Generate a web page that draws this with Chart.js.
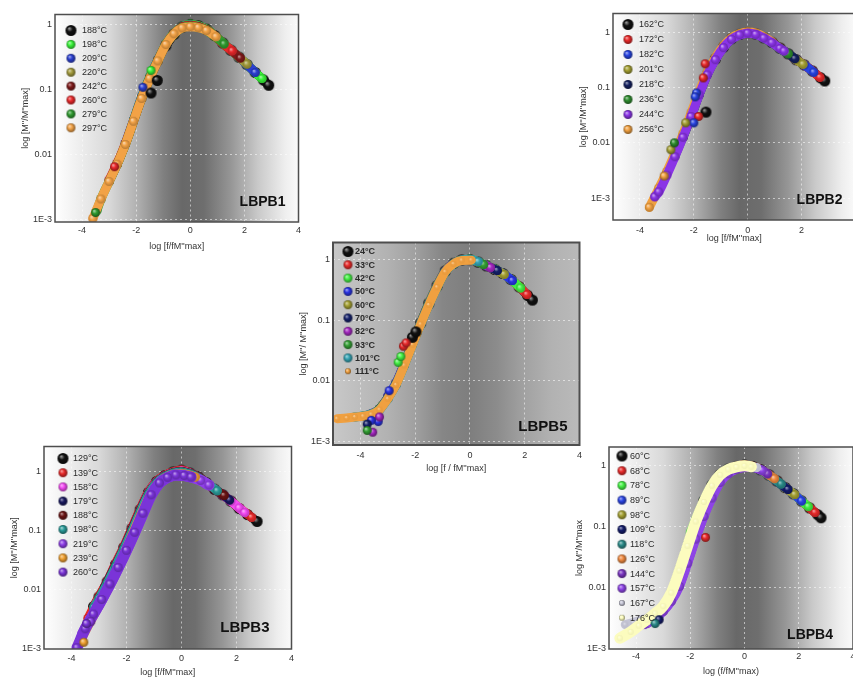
<!DOCTYPE html>
<html>
<head>
<meta charset="utf-8">
<script src="https://cdn.jsdelivr.net/npm/chart.js@4.4.1/dist/chart.umd.min.js"></script>
<style>
  html, body { margin: 0; padding: 0; background: #fff; width: 853px; height: 688px; overflow: hidden; position: relative; }
  canvas { position: absolute; }
</style>
</head>
<body>
<script>
// ---------------- shared axis ticks ----------------
const X_TICKS = [-4, -2, 0, 2, 4];
const Y_TICKS = [0.001, 0.01, 0.1, 1];
const Y_TICK_LABELS = ['1E-3', '0.01', '0.1', '1'];

// ---------------- LBPB1 ----------------
const LBPB1_TEMPS = [188, 198, 209, 220, 242, 260, 279, 297];
const LBPB1_SERIES = [
  [[-0.9,0.48],[-0.6,0.72],[-0.3,0.93],[0,1.02],[0.3,0.97],[0.6,0.86],[0.9,0.69],[1.2,0.53],[1.5,0.41],[1.8,0.32],[2.1,0.245],[2.4,0.186],[2.7,0.143],[2.9,0.118]],
  [[-2.1,0.034],[-1.8,0.078],[-1.5,0.16],[-1.2,0.29],[-0.9,0.51],[-0.6,0.75],[-0.3,0.95],[0,1.03],[0.3,0.97],[0.6,0.86],[0.9,0.69],[1.2,0.53],[1.5,0.41],[1.8,0.32],[2.1,0.245],[2.4,0.186],[2.65,0.15]],
  [[-2.4,0.015],[-2.1,0.034],[-1.8,0.078],[-1.5,0.155],[-1.2,0.29],[-0.9,0.5],[-0.6,0.74],[-0.3,0.94],[0,1.0],[0.3,0.95],[0.6,0.85],[0.9,0.68],[1.2,0.52],[1.5,0.41],[1.8,0.32],[2.1,0.245],[2.4,0.186]],
  [[-2.7,0.0072],[-2.4,0.0145],[-2.1,0.033],[-1.8,0.074],[-1.5,0.15],[-1.2,0.28],[-0.9,0.5],[-0.6,0.74],[-0.3,0.93],[0,0.99],[0.3,0.95],[0.6,0.85],[0.9,0.68],[1.2,0.52],[1.5,0.41],[1.8,0.32],[2.1,0.25]],
  [[-3.0,0.0039],[-2.7,0.0072],[-2.4,0.0145],[-2.1,0.033],[-1.8,0.074],[-1.5,0.15],[-1.2,0.28],[-0.9,0.5],[-0.6,0.74],[-0.3,0.93],[0,0.98],[0.3,0.94],[0.6,0.84],[0.9,0.68],[1.2,0.52],[1.5,0.41],[1.85,0.31]],
  [[-3.0,0.0041],[-2.7,0.0075],[-2.4,0.015],[-2.1,0.033],[-1.8,0.074],[-1.5,0.15],[-1.2,0.28],[-0.9,0.5],[-0.6,0.74],[-0.3,0.92],[0,0.97],[0.3,0.93],[0.6,0.84],[0.9,0.68],[1.2,0.52],[1.55,0.4]],
  [[-3.45,0.0014],[-3.3,0.0021],[-3.0,0.0039],[-2.7,0.0072],[-2.4,0.0145],[-2.1,0.033],[-1.8,0.074],[-1.5,0.15],[-1.2,0.28],[-0.9,0.5],[-0.6,0.73],[-0.3,0.91],[0,0.96],[0.3,0.92],[0.6,0.83],[0.9,0.67],[1.25,0.51]],
  [[-3.6,0.00105],[-3.3,0.0021],[-3.0,0.0039],[-2.7,0.0072],[-2.4,0.0145],[-2.1,0.033],[-1.8,0.074],[-1.5,0.15],[-1.2,0.28],[-0.9,0.5],[-0.6,0.73],[-0.3,0.9],[0,0.94],[0.3,0.91],[0.6,0.82],[0.95,0.66]]
];
// off-curve points: [series index, log f, M''/M''max]
const LBPB1_STRAY = [[0,-1.45,0.09],[0,-1.22,0.14],[1,-1.45,0.2],[2,-1.75,0.11],[5,-2.8,0.0066],[6,-3.5,0.0013]];

// ---------------- LBPB2 ----------------
const LBPB2_TEMPS = [162, 172, 182, 201, 218, 236, 244, 256];
const LBPB2_SERIES = [
  [[-1.2,0.33],[-0.9,0.54],[-0.6,0.77],[-0.3,0.92],[0,0.99],[0.3,0.94],[0.6,0.8],[0.9,0.66],[1.2,0.52],[1.5,0.41],[1.8,0.32],[2.1,0.257],[2.4,0.2],[2.7,0.151],[2.86,0.132]],
  [[-1.5,0.18],[-1.2,0.34],[-0.9,0.56],[-0.6,0.78],[-0.3,0.93],[0,1.0],[0.3,0.95],[0.6,0.8],[0.9,0.66],[1.2,0.52],[1.5,0.41],[1.8,0.32],[2.1,0.257],[2.4,0.2],[2.68,0.153]],
  [[-1.8,0.076],[-1.5,0.174],[-1.2,0.33],[-0.9,0.54],[-0.6,0.76],[-0.3,0.91],[0,0.98],[0.3,0.93],[0.6,0.79],[0.9,0.65],[1.2,0.51],[1.5,0.41],[1.8,0.32],[2.1,0.257],[2.45,0.19]],
  [[-2.1,0.031],[-1.8,0.076],[-1.5,0.174],[-1.2,0.33],[-0.9,0.54],[-0.6,0.76],[-0.3,0.91],[0,0.98],[0.3,0.93],[0.6,0.79],[0.9,0.65],[1.2,0.51],[1.5,0.41],[1.8,0.32],[2.05,0.265]],
  [[-2.4,0.0126],[-2.1,0.03],[-1.8,0.076],[-1.5,0.174],[-1.2,0.33],[-0.9,0.54],[-0.6,0.76],[-0.3,0.91],[0,0.98],[0.3,0.93],[0.6,0.79],[0.9,0.65],[1.2,0.51],[1.5,0.41],[1.75,0.335]],
  [[-2.7,0.0058],[-2.4,0.0128],[-2.1,0.03],[-1.8,0.076],[-1.5,0.174],[-1.2,0.33],[-0.9,0.54],[-0.6,0.76],[-0.3,0.91],[0,0.98],[0.3,0.93],[0.6,0.79],[0.9,0.65],[1.2,0.51],[1.5,0.41]],
  [[-3.45,0.00105],[-3.3,0.00129],[-3.0,0.0026],[-2.7,0.0056],[-2.4,0.0126],[-2.1,0.03],[-1.8,0.074],[-1.5,0.17],[-1.2,0.32],[-0.9,0.53],[-0.6,0.75],[-0.3,0.9],[0,0.97],[0.3,0.92],[0.6,0.79],[0.9,0.65],[1.2,0.51],[1.35,0.46]],
  [[-3.65,0.00068],[-3.3,0.0015],[-3.0,0.003],[-2.7,0.0065],[-2.4,0.0145],[-2.1,0.035],[-1.8,0.085],[-1.5,0.19],[-1.2,0.35],[-0.9,0.57],[-0.6,0.8],[-0.3,0.95],[0,1.02],[0.3,0.97],[0.6,0.83],[0.9,0.68]]
];
const LBPB2_STRAY = [[0,-1.55,0.036],[1,-1.58,0.27],[1,-1.65,0.15],[1,-1.82,0.03],[2,-1.9,0.08],[2,-1.95,0.068],[2,-2.0,0.023],[3,-2.3,0.023],[5,-2.72,0.01],[3,-2.85,0.0075],[7,-3.1,0.0025]];

// ---------------- LBPB3 ----------------
const LBPB3_TEMPS = [129, 139, 158, 179, 188, 198, 219, 239, 260];
const LBPB3_SERIES = [
  [[-3.2,0.0052],[-3.0,0.0076],[-2.7,0.0138],[-2.4,0.027],[-2.1,0.052],[-1.8,0.11],[-1.5,0.23],[-1.2,0.45],[-0.9,0.69],[-0.6,0.87],[-0.3,1.0],[0,1.07],[0.3,0.96],[0.6,0.83],[0.9,0.66],[1.2,0.51],[1.5,0.41],[1.8,0.32],[2.1,0.24],[2.4,0.19],[2.75,0.145]],
  [[-3.4,0.0033],[-3.0,0.0078],[-2.7,0.014],[-2.4,0.028],[-2.1,0.054],[-1.8,0.113],[-1.5,0.235],[-1.2,0.46],[-0.9,0.7],[-0.6,0.88],[-0.3,1.01],[0,1.08],[0.3,0.96],[0.6,0.83],[0.9,0.66],[1.2,0.51],[1.5,0.41],[1.8,0.32],[2.1,0.245],[2.4,0.193],[2.55,0.17]],
  [[-2.6,0.016],[-2.4,0.026],[-2.1,0.05],[-1.8,0.105],[-1.5,0.22],[-1.2,0.44],[-0.9,0.68],[-0.6,0.86],[-0.3,0.98],[0,1.04],[0.3,0.95],[0.6,0.82],[0.9,0.66],[1.2,0.51],[1.5,0.41],[1.8,0.32],[2.1,0.245],[2.3,0.205]],
  [[-2.8,0.011],[-2.4,0.026],[-2.1,0.05],[-1.8,0.105],[-1.5,0.22],[-1.2,0.43],[-0.9,0.67],[-0.6,0.85],[-0.3,0.97],[0,1.02],[0.3,0.94],[0.6,0.82],[0.9,0.66],[1.2,0.51],[1.5,0.41],[1.75,0.335]],
  [[-3.0,0.0074],[-2.7,0.013],[-2.4,0.026],[-2.1,0.05],[-1.8,0.105],[-1.5,0.22],[-1.2,0.43],[-0.9,0.67],[-0.6,0.85],[-0.3,0.97],[0,1.02],[0.3,0.94],[0.6,0.82],[0.9,0.66],[1.2,0.51],[1.55,0.4]],
  [[-3.2,0.005],[-3.0,0.0072],[-2.7,0.013],[-2.4,0.025],[-2.1,0.049],[-1.8,0.1],[-1.5,0.21],[-1.2,0.42],[-0.9,0.66],[-0.6,0.84],[-0.3,0.96],[0,1.0],[0.3,0.93],[0.6,0.81],[0.9,0.66],[1.3,0.48]],
  [[-3.6,0.0018],[-3.5,0.0022],[-3.2,0.0039],[-2.9,0.0069],[-2.6,0.0126],[-2.3,0.024],[-2.0,0.047],[-1.7,0.095],[-1.4,0.2],[-1.1,0.41],[-0.8,0.65],[-0.5,0.81],[-0.2,0.89],[0.1,0.87],[0.4,0.81],[0.7,0.72],[1.0,0.6]],
  [[-3.75,0.0012],[-3.6,0.0016],[-3.3,0.003],[-3.0,0.0055],[-2.7,0.01],[-2.4,0.02],[-2.1,0.04],[-1.8,0.085],[-1.5,0.18],[-1.2,0.36],[-0.9,0.6],[-0.6,0.8],[-0.3,0.91],[0,0.93],[0.3,0.88],[0.5,0.82]],
  [[-3.8,0.00105],[-3.5,0.0022],[-3.2,0.0039],[-2.9,0.0069],[-2.6,0.0126],[-2.3,0.024],[-2.0,0.047],[-1.7,0.095],[-1.4,0.2],[-1.1,0.41],[-0.8,0.65],[-0.5,0.81],[-0.2,0.89],[0.1,0.87],[0.35,0.82]]
];
const LBPB3_STRAY = [[8,-3.45,0.0027],[6,-3.3,0.0029],[7,-3.55,0.0013]];

// ---------------- LBPB4 ----------------
const LBPB4_TEMPS = [60, 68, 78, 89, 98, 109, 118, 126, 144, 157, 167, 176];
const LBPB4_SERIES = [
  [[-1.5,0.26],[-1.2,0.47],[-0.9,0.7],[-0.6,0.86],[-0.3,0.95],[0,1.0],[0.3,0.95],[0.6,0.84],[0.9,0.69],[1.2,0.55],[1.5,0.43],[1.8,0.34],[2.1,0.26],[2.4,0.2],[2.7,0.155],[2.82,0.138]],
  [[-1.8,0.12],[-1.5,0.25],[-1.2,0.46],[-0.9,0.69],[-0.6,0.86],[-0.3,0.95],[0,1.0],[0.3,0.95],[0.6,0.84],[0.9,0.69],[1.2,0.55],[1.5,0.43],[1.8,0.34],[2.1,0.26],[2.4,0.2],[2.6,0.168]],
  [[-2.0,0.078],[-1.8,0.13],[-1.5,0.26],[-1.2,0.47],[-0.9,0.7],[-0.6,0.86],[-0.3,0.94],[0,0.99],[0.3,0.94],[0.6,0.83],[0.9,0.68],[1.2,0.54],[1.5,0.43],[1.8,0.34],[2.1,0.26],[2.35,0.21]],
  [[-2.2,0.038],[-1.8,0.12],[-1.5,0.25],[-1.2,0.46],[-0.9,0.69],[-0.6,0.85],[-0.3,0.93],[0,0.98],[0.3,0.93],[0.6,0.83],[0.9,0.68],[1.2,0.54],[1.5,0.43],[1.8,0.34],[2.1,0.26]],
  [[-2.4,0.019],[-2.1,0.048],[-1.8,0.12],[-1.5,0.25],[-1.2,0.46],[-0.9,0.69],[-0.6,0.85],[-0.3,0.93],[0,0.98],[0.3,0.93],[0.6,0.83],[0.9,0.68],[1.2,0.54],[1.5,0.43],[1.85,0.33]],
  [[-2.7,0.0083],[-2.4,0.02],[-2.1,0.05],[-1.8,0.125],[-1.5,0.26],[-1.2,0.47],[-0.9,0.7],[-0.6,0.86],[-0.3,0.94],[0,0.98],[0.3,0.93],[0.6,0.83],[0.9,0.68],[1.2,0.54],[1.6,0.4]],
  [[-3.4,0.0029],[-3.25,0.0032],[-3.0,0.0045],[-2.7,0.0083],[-2.4,0.02],[-2.1,0.05],[-1.8,0.125],[-1.5,0.26],[-1.2,0.47],[-0.9,0.7],[-0.6,0.86],[-0.3,0.94],[0,0.98],[0.3,0.93],[0.6,0.83],[0.9,0.68],[1.35,0.49]],
  [[-3.3,0.0036],[-3.0,0.0048],[-2.7,0.008],[-2.4,0.018],[-2.1,0.046],[-1.8,0.115],[-1.5,0.24],[-1.2,0.45],[-0.9,0.68],[-0.6,0.84],[-0.3,0.93],[0,0.98],[0.3,0.94],[0.6,0.84],[0.9,0.69],[1.1,0.6]],
  [[-3.6,0.0026],[-3.3,0.0032],[-3.0,0.0042],[-2.7,0.0062],[-2.4,0.011],[-2.1,0.026],[-1.8,0.065],[-1.5,0.15],[-1.2,0.3],[-0.9,0.53],[-0.6,0.73],[-0.3,0.86],[0,0.92],[0.3,0.92],[0.6,0.84],[0.85,0.72]],
  [[-3.7,0.0025],[-3.3,0.0031],[-3.0,0.0041],[-2.7,0.006],[-2.4,0.0105],[-2.1,0.025],[-1.8,0.062],[-1.5,0.145],[-1.2,0.29],[-0.9,0.52],[-0.6,0.72],[-0.3,0.85],[0,0.91],[0.3,0.91],[0.65,0.82]],
  [[-4.4,0.0025],[-4.1,0.0027],[-3.8,0.003],[-3.5,0.0034],[-3.2,0.0041],[-3.0,0.005],[-2.7,0.0083],[-2.4,0.019],[-2.1,0.048],[-1.8,0.12],[-1.5,0.25],[-1.2,0.46],[-0.9,0.69],[-0.6,0.85],[-0.3,0.93],[0,0.98],[0.45,0.91]],
  [[-4.6,0.0015],[-4.2,0.0019],[-3.9,0.0024],[-3.6,0.003],[-3.3,0.0038],[-3.0,0.005],[-2.7,0.0083],[-2.4,0.019],[-2.1,0.048],[-1.8,0.12],[-1.5,0.25],[-1.2,0.46],[-0.9,0.69],[-0.6,0.85],[-0.3,0.93],[0,0.97],[0.25,0.94]]
];
const LBPB4_STRAY = [[1,-1.44,0.066],[6,-3.3,0.0026],[5,-3.15,0.003]];

// ---------------- LBPB5 ----------------
const LBPB5_TEMPS = [24, 33, 42, 50, 60, 70, 82, 93, 101, 111];
const LBPB5_SERIES = [
  [[-1.8,0.09],[-1.5,0.19],[-1.2,0.37],[-0.9,0.65],[-0.6,0.87],[-0.3,0.99],[0,1.0],[0.3,0.91],[0.6,0.79],[0.9,0.69],[1.2,0.59],[1.5,0.47],[1.8,0.355],[2.1,0.257],[2.28,0.214]],
  [[-2.1,0.042],[-1.8,0.09],[-1.5,0.19],[-1.2,0.37],[-0.9,0.65],[-0.6,0.87],[-0.3,0.99],[0,1.0],[0.3,0.91],[0.6,0.79],[0.9,0.69],[1.2,0.59],[1.5,0.47],[1.8,0.355],[2.08,0.265]],
  [[-2.4,0.02],[-2.1,0.042],[-1.8,0.09],[-1.5,0.19],[-1.2,0.37],[-0.9,0.65],[-0.6,0.87],[-0.3,0.99],[0,1.01],[0.3,0.92],[0.6,0.8],[0.9,0.7],[1.2,0.59],[1.5,0.47],[1.85,0.34]],
  [[-3.0,0.0055],[-2.7,0.0092],[-2.4,0.019],[-2.1,0.041],[-1.8,0.088],[-1.5,0.185],[-1.2,0.36],[-0.9,0.64],[-0.6,0.86],[-0.3,0.98],[0,1.0],[0.3,0.91],[0.6,0.79],[0.9,0.69],[1.2,0.59],[1.55,0.45]],
  [[-3.2,0.0039],[-3.0,0.0052],[-2.7,0.0088],[-2.4,0.0185],[-2.1,0.04],[-1.8,0.087],[-1.5,0.18],[-1.2,0.355],[-0.9,0.64],[-0.6,0.86],[-0.3,0.98],[0,1.0],[0.3,0.91],[0.6,0.79],[0.9,0.69],[1.25,0.57]],
  [[-3.5,0.0029],[-3.3,0.0034],[-3.0,0.0052],[-2.7,0.0088],[-2.4,0.0185],[-2.1,0.04],[-1.8,0.087],[-1.5,0.18],[-1.2,0.355],[-0.9,0.64],[-0.6,0.86],[-0.3,0.98],[0,1.0],[0.3,0.91],[0.6,0.79],[1.0,0.66]],
  [[-3.7,0.0027],[-3.3,0.0034],[-3.0,0.0052],[-2.7,0.0088],[-2.4,0.0185],[-2.1,0.04],[-1.8,0.087],[-1.5,0.18],[-1.2,0.355],[-0.9,0.64],[-0.6,0.86],[-0.3,0.98],[0,1.0],[0.3,0.91],[0.75,0.74]],
  [[-3.85,0.0026],[-3.6,0.0028],[-3.3,0.0034],[-3.0,0.0051],[-2.7,0.0087],[-2.4,0.018],[-2.1,0.04],[-1.8,0.086],[-1.5,0.18],[-1.2,0.35],[-0.9,0.63],[-0.6,0.85],[-0.3,0.98],[0,1.0],[0.3,0.91],[0.5,0.83]],
  [[-4.2,0.0025],[-3.9,0.0026],[-3.6,0.0028],[-3.3,0.0033],[-3.0,0.005],[-2.7,0.0085],[-2.4,0.0178],[-2.1,0.039],[-1.8,0.085],[-1.5,0.178],[-1.2,0.35],[-0.9,0.63],[-0.6,0.85],[-0.3,0.98],[0,1.01],[0.3,0.93]],
  [[-4.85,0.00234],[-4.5,0.0024],[-4.2,0.0025],[-3.9,0.00257],[-3.6,0.00275],[-3.3,0.0033],[-3.0,0.005],[-2.7,0.0085],[-2.4,0.0178],[-2.1,0.039],[-1.8,0.085],[-1.5,0.178],[-1.2,0.35],[-0.9,0.63],[-0.6,0.85],[-0.3,0.97],[0.05,0.98]]
];
const LBPB5_STRAY = [[0,-2.1,0.052],[0,-1.97,0.064],[1,-2.43,0.037],[1,-2.33,0.042],[2,-2.62,0.02],[2,-2.52,0.025],[3,-2.95,0.0068],[3,-3.35,0.0021],[3,-3.6,0.0022],[5,-3.75,0.0019],[6,-3.55,0.0014],[6,-3.3,0.0025],[7,-3.75,0.0015]];

// ---------------- panel layout and styling ----------------
const FONT = '"Liberation Sans", Arial, sans-serif';
const AXIS_W = 55, AXIS_H = 40, PAD_T = 5, PAD_R = 10;

const GREY_BG = [[-5,'#ffffff'],[-3,'#d9d9d9'],[-2,'#b2b2b2'],[-1,'#808080'],[-0.3,'#686868'],[0.5,'#6e6e6e'],[1.5,'#969696'],[2.5,'#c9c9c9'],[3.5,'#eeeeee'],[4,'#fafafa']];

const PANELS = [
  { name: 'LBPB1', temps: LBPB1_TEMPS, series: LBPB1_SERIES, stray: LBPB1_STRAY,
    colors: ['#111111','#39f239','#2b3fd0','#a39b3c','#7e1a1a','#e8282a','#2f9a2f','#f2a246'],
    rect: [55, 5, 303, 222], yMin: 9.3e-4, yMax: 1.45,
    yTitle: "log [M''/M''max]", xTitle: "log [f/fM''max]", xTitleGap: 25, xTickPad: 3,
    legend: { dx: 16, tx: 27, dy: 16, step: 13.9, bold: false },
    label: { dx: 13, dy: 20, size: 14 }, bg: GREY_BG },
  { name: 'LBPB2', temps: LBPB2_TEMPS, series: LBPB2_SERIES, stray: LBPB2_STRAY,
    colors: ['#111111','#e82a2a','#2743e0','#a4a032','#14205e','#2e8c2e','#8a34e6','#f0a040'],
    rect: [613, 4, 860, 220], yMin: 4e-4, yMax: 2.2,
    yTitle: "log [M''/M''max]", xTitle: "log [f/fM''max]", xTitleGap: 19, xTickPad: 5,
    legend: { dx: 15, tx: 26, dy: 11, step: 15, bold: false },
    label: { dx: 13, dy: 20, size: 14 }, bg: GREY_BG,
    order: [0, -1, -2, -3, -4, -5, -7, -6] },
  { name: 'LBPB3', temps: LBPB3_TEMPS, series: LBPB3_SERIES, stray: LBPB3_STRAY,
    colors: ['#111111','#e82a2a','#f44af4','#18185e','#6a1414','#2a9a98','#8e3ee8','#f0a030','#7a34d8'],
    rect: [44, 436, 297, 649], yMin: 1e-3, yMax: 2.7,
    yTitle: "log [M''/M''max]", xTitle: "log [f/fM''max]", xTitleGap: 24, xTickPad: 4,
    legend: { dx: 19, tx: 29, dy: 12, step: 14.2, bold: false },
    label: { dx: 22, dy: 21, size: 15 }, bg: GREY_BG, wide: [6, 8] },
  { name: 'LBPB4', temps: LBPB4_TEMPS, series: LBPB4_SERIES, stray: LBPB4_STRAY,
    colors: ['#111111','#e82a2a','#44f044','#2a44e4','#a4a032','#141c6a','#2a8a88','#f08a40','#7a34c0','#8e44e6','#c4c4d4','#fcfcbe'],
    rect: [609, 437, 858, 649], yMin: 1e-3, yMax: 1.97,
    yTitle: "log M''/M''max", xTitle: "log (f/fM''max)", xTitleGap: 23, xTickPad: 2,
    legend: { dx: 13, tx: 21, dy: 9, step: 14.7, bold: false },
    label: { dx: 20, dy: 14, size: 14 }, bg: GREY_BG, wide: [11], small: [10, 11] },
  { name: 'LBPB5', temps: LBPB5_TEMPS, series: LBPB5_SERIES, stray: LBPB5_STRAY,
    colors: ['#111111','#e82a2a','#44f044','#2a34e4','#a4a032','#14206a','#a428c0','#34a034','#34a4b4','#f0a040'],
    rect: [333, 233, 584, 445], yMin: 8.6e-4, yMax: 1.92,
    yTitle: "log [M''/ M''max]", xTitle: "log [f / fM''max]", xTitleGap: 24, xTickPad: 5,
    legend: { dx: 15, tx: 22, dy: 9, step: 13.3, bold: true },
    label: { dx: 12, dy: 18, size: 15 },
    bg: [[-5,'#c8c8c8'],[-3,'#b2b2b2'],[-2,'#a0a0a0'],[-1,'#868686'],[0,'#7e7e7e'],[1,'#8c8c8c'],[2,'#a2a2a2'],[3,'#b2b2b2'],[4,'#bababa']],
    frame: 2, small: [9] }
];

// ---------------- helpers ----------------
function rgb(hex) {
  const n = parseInt(hex.slice(1), 16);
  return [(n >> 16) & 255, (n >> 8) & 255, n & 255];
}
function mix(hex, hex2, t) {
  const a = rgb(hex), b = rgb(hex2);
  return 'rgb(' + a.map((v, k) => Math.round(v + (b[k] - v) * t)).join(',') + ')';
}
// shaded ball used as the marker
function sphere(color, r, edge) {
  const s = Math.ceil(2 * r) + 2;
  const c = document.createElement('canvas');
  c.width = c.height = s;
  const g = c.getContext('2d');
  const m = s / 2;
  const grd = g.createRadialGradient(m - r * 0.35, m - r * 0.4, r * 0.05, m, m, r);
  grd.addColorStop(0, mix(color, '#ffffff', 0.6));
  grd.addColorStop(0.45, color);
  grd.addColorStop(1, mix(color, '#000000', edge));
  g.fillStyle = grd;
  g.beginPath(); g.arc(m, m, r, 0, Math.PI * 2); g.fill();
  return c;
}

function decorPlugin(p, markers) {
  return {
    id: 'decor_' + p.name,
    beforeDraw(chart) {
      const { ctx, chartArea: a, scales: { x } } = chart;
      const g = ctx.createLinearGradient(a.left, 0, a.right, 0);
      p.bg.forEach(([v, c]) => {
        const t = (x.getPixelForValue(v) - a.left) / (a.right - a.left);
        g.addColorStop(Math.min(1, Math.max(0, t)), c);
      });
      ctx.save();
      ctx.fillStyle = g;
      ctx.fillRect(a.left, a.top, a.right - a.left, a.bottom - a.top);
      ctx.restore();
    },
    afterDraw(chart) {
      const { ctx, chartArea: a } = chart;
      ctx.save();
      // legend
      const L = p.legend;
      ctx.font = (L.bold ? 'bold ' : '') + '9px ' + FONT;
      ctx.fillStyle = '#2a2a2a';
      ctx.textBaseline = 'middle';
      ctx.textAlign = 'left';
      p.temps.forEach((t, i) => {
        const y = a.top + L.dy + i * L.step;
        const img = markers.legend[i];
        ctx.drawImage(img, a.left + L.dx - img.width / 2, y - img.height / 2);
        ctx.fillText(t + '°C', a.left + L.tx, y + 0.5);
      });
      // sample name
      ctx.font = 'bold ' + p.label.size + 'px ' + FONT;
      ctx.fillStyle = '#111';
      ctx.textAlign = 'right';
      ctx.fillText(p.name, a.right - p.label.dx, a.bottom - p.label.dy);
      // frame
      ctx.strokeStyle = '#4e4e4e';
      ctx.lineWidth = p.frame || 1.5;
      ctx.strokeRect(a.left, a.top, a.right - a.left, a.bottom - a.top);
      ctx.restore();
    }
  };
}

function buildPanel(p) {
  const [L, T, R, B] = p.rect;
  const cv = document.createElement('canvas');
  cv.width = R - L + AXIS_W + PAD_R;
  cv.height = B - T + PAD_T + AXIS_H;
  cv.style.left = (L - AXIS_W) + 'px';
  cv.style.top = (T - PAD_T) + 'px';
  document.body.appendChild(cv);

  const isSmall = i => p.small && p.small.includes(i);
  const radius = p.temps.map((_, i) => (i === 0 ? 5.5 : (isSmall(i) ? 3 : 4.5)));
  const markers = {
    data: p.temps.map((_, i) => sphere(p.colors[i], radius[i], isSmall(i) ? 0.05 : 0.25)),
    legend: p.temps.map((_, i) => sphere(p.colors[i], radius[i], 0.45))
  };

  const datasets = p.series.map((pts, i) => ({
    label: p.temps[i] + '°C',
    data: pts.map(([x, y]) => ({ x, y })),
    showLine: true,
    borderColor: p.colors[i],
    borderWidth: p.wide && p.wide.includes(i) ? 11 : 9,
    borderCapStyle: 'round',
    borderJoinStyle: 'round',
    cubicInterpolationMode: 'monotone',
    pointStyle: markers.data[i],
    pointRadius: radius[i],
    order: p.order ? p.order[i] : -i
  }));

  // points lying off the master curve, grouped by series
  const groups = {};
  p.stray.forEach(([i, x, y]) => { (groups[i] = groups[i] || []).push({ x, y }); });
  Object.keys(groups).forEach(k => {
    const i = +k;
    datasets.push({
      data: groups[k], showLine: false,
      pointStyle: markers.legend[i], pointRadius: radius[i], order: -100 - i
    });
  });

  const tickFont = { size: 9, family: FONT };
  new Chart(cv.getContext('2d'), {
    type: 'scatter',
    data: { datasets },
    options: {
      responsive: false, animation: false, devicePixelRatio: 1,
      layout: { padding: { left: 0, top: PAD_T, right: PAD_R, bottom: 0 } },
      plugins: { legend: { display: false }, tooltip: { enabled: false } },
      scales: {
        x: {
          type: 'linear', min: -5, max: 4,
          afterBuildTicks: ax => { ax.ticks = X_TICKS.map(v => ({ value: v })); },
          afterFit: ax => { ax.height = AXIS_H; },
          ticks: { font: tickFont, color: '#333', padding: p.xTickPad, maxRotation: 0, callback: v => String(v) },
          grid: { color: 'rgba(255,255,255,0.55)', lineWidth: 1, drawTicks: false },
          border: { display: false, dash: [2, 3] },
          title: { display: true, text: p.xTitle, color: '#333', font: tickFont,
                   padding: { top: 0, bottom: AXIS_H - p.xTitleGap - 5.4 } }
        },
        y: {
          type: 'logarithmic', min: p.yMin, max: p.yMax,
          afterBuildTicks: ax => { ax.ticks = Y_TICKS.map(v => ({ value: v })); },
          afterFit: ax => { ax.width = AXIS_W; },
          ticks: { font: tickFont, color: '#333', padding: 3,
                   callback: v => Y_TICK_LABELS[Y_TICKS.indexOf(v)] },
          grid: { color: 'rgba(255,255,255,0.55)', lineWidth: 1, drawTicks: false },
          border: { display: false, dash: [2, 3] },
          title: { display: true, text: p.yTitle, color: '#333', font: tickFont,
                   padding: { top: 20, bottom: 0 } }
        }
      }
    },
    plugins: [decorPlugin(p, markers)]
  });
}

PANELS.forEach(buildPanel);
</script>
</body>
</html>
